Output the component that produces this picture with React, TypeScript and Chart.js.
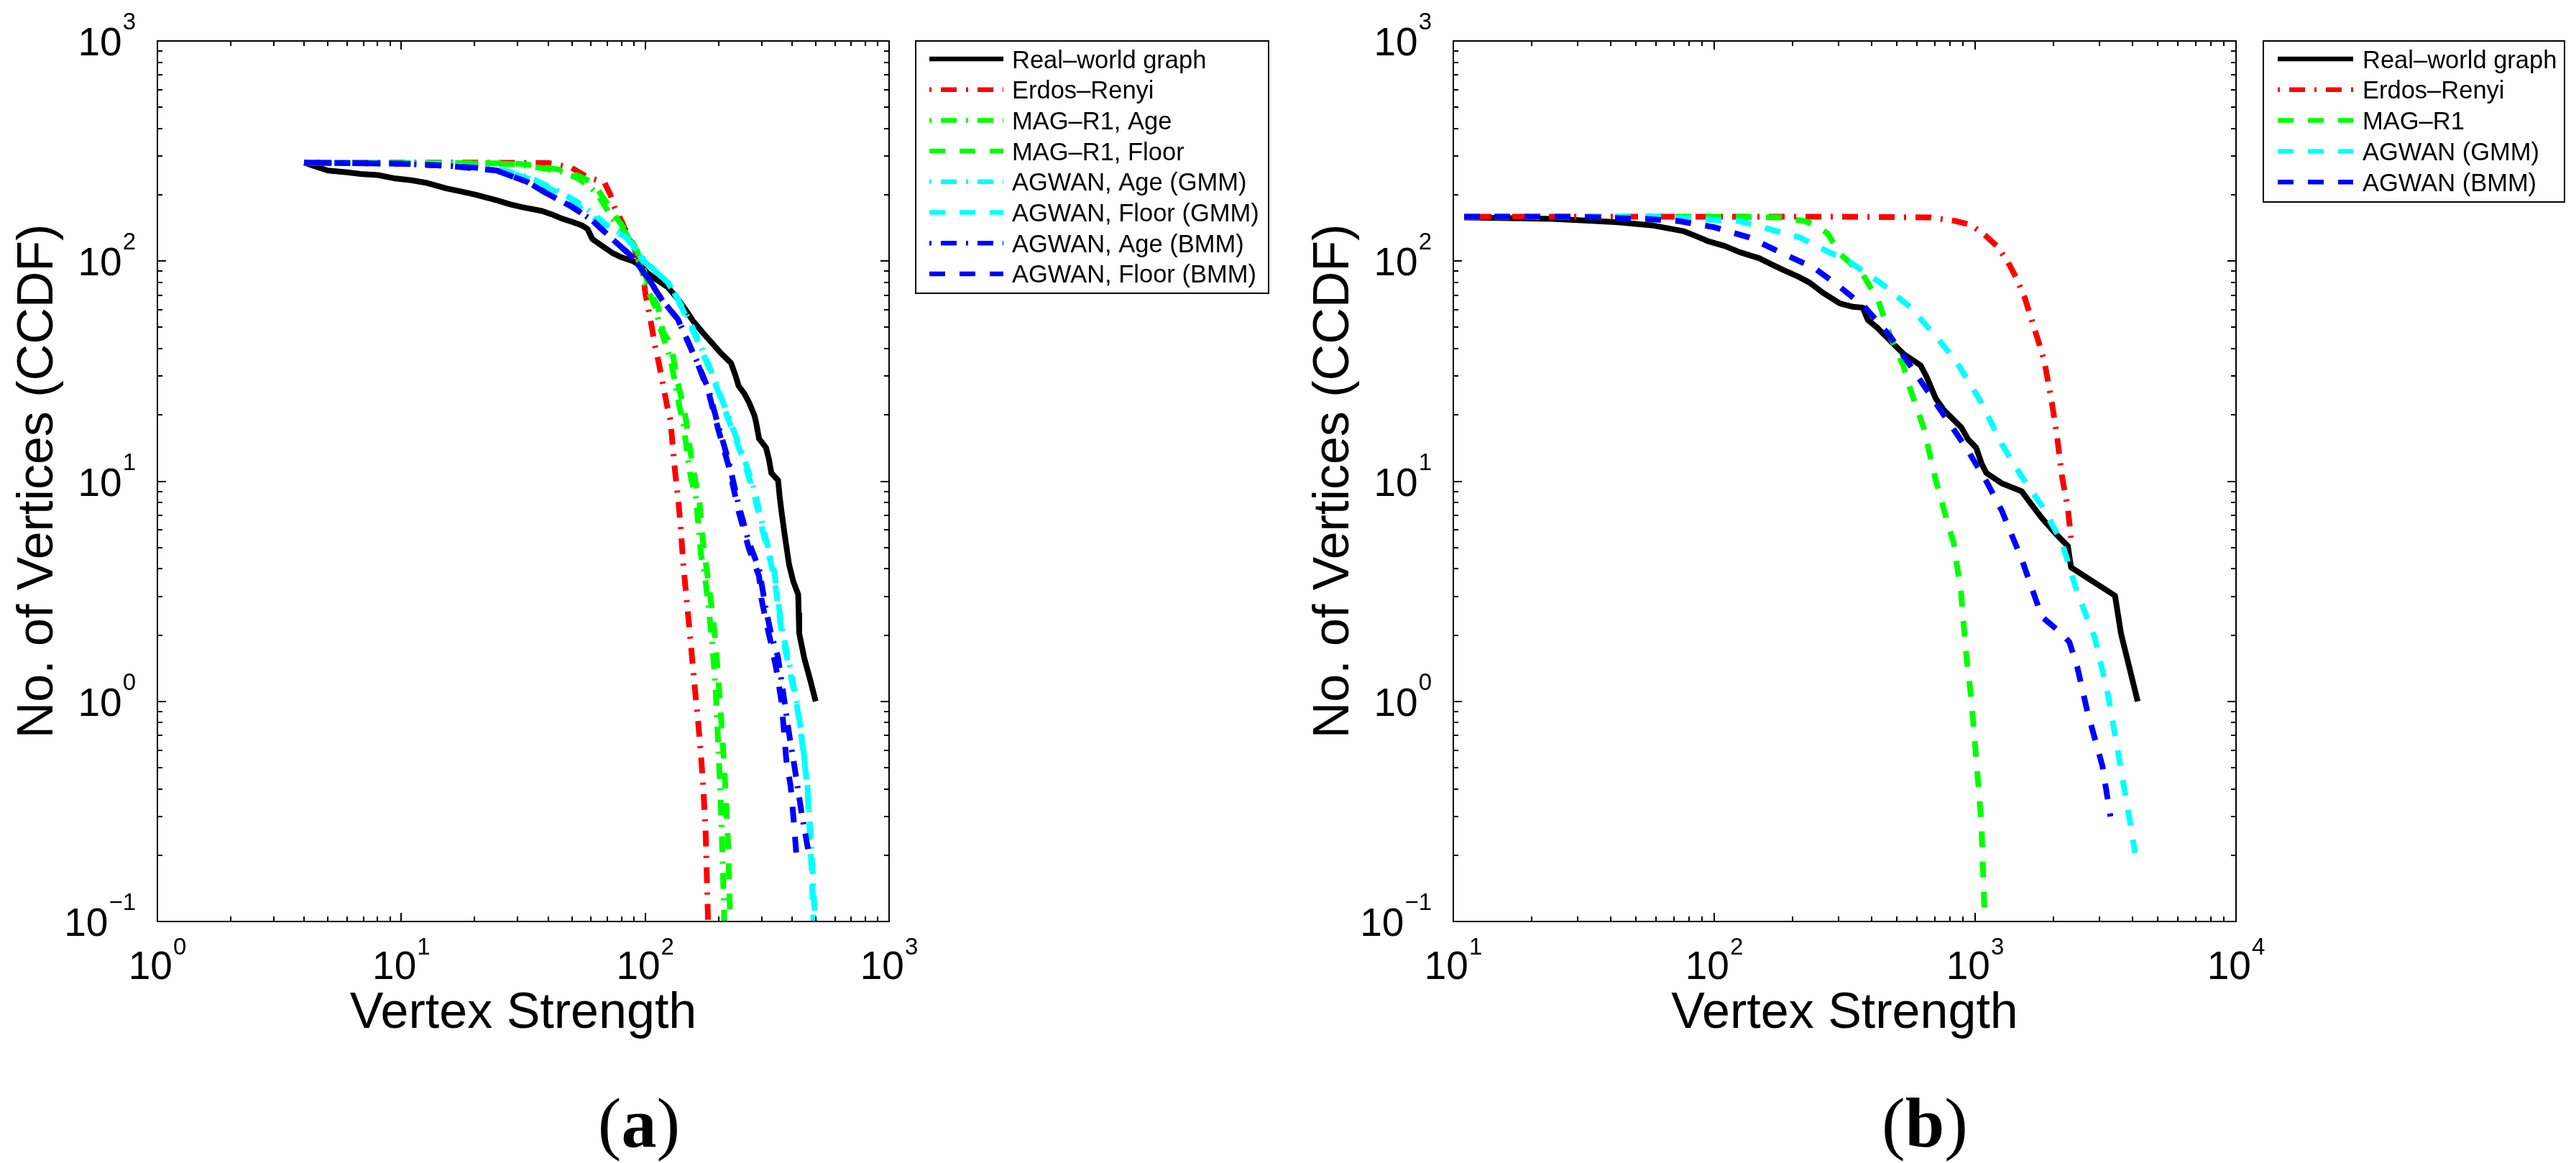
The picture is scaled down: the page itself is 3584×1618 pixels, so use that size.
import React, { useEffect, useRef } from "react";
import { Chart, registerables } from "chart.js";

Chart.register(...registerables);

const SANS = '"Liberation Sans", Arial, Helvetica, sans-serif';
const SERIF = '"Liberation Serif", "Times New Roman", serif';

type Pt = [number, number];

// ---------- line styles ----------
const SOLID: number[] = [];
const DASHED = [22, 20];
const DASHDOT = [3, 13, 22, 13];

// ---------- panel (a) data: [vertex strength, no. of vertices (CCDF)] ----------
const aReal: Pt[] = [[4, 280], [4.5, 268], [5, 258], [6, 253], [6.8, 249], [8, 246], [9.3, 238], [11, 233], [12.6, 227], [15.3, 214], [18, 206], [20.3, 200], [24.6, 189], [28, 181], [31.2, 176], [37.7, 169], [42, 162], [45.6, 156], [50, 151], [55.2, 145], [58, 140], [60.7, 126], [66, 118], [73.3, 109], [80, 104], [89, 100], [95, 96], [102.6, 88], [112, 82], [124, 76], [135, 68], [146.6, 60], [158, 53], [173, 47], [190.6, 41.7], [205, 38], [225, 34.4], [235, 30], [241.6, 27.1], [255, 25], [266, 22.9], [280, 20], [285, 18.5], [293, 15.6], [313, 14.2], [322, 12.5], [329, 10.9], [350.6, 10.1], [356, 8.5], [362, 7.3], [375, 5.5], [389, 4.18], [405, 3.5], [424, 3.06], [426, 2.5], [428, 2.04], [449, 1.57], [475, 1.25], [500, 1.0]];
const aErdos: Pt[] = [[4, 280], [20, 280], [40, 279], [45, 272], [50, 265], [58, 240], [65, 232], [68, 228], [72, 200], [75, 175], [80.7, 149], [85, 130], [89, 117], [95, 100], [98, 88], [100, 72], [105, 54.4], [110, 40.7], [114, 34], [118, 27.8], [123, 22], [127, 18.9], [130, 14], [133, 10.7], [137, 8], [140, 6.0], [143, 4.3], [146.6, 3.2], [152, 2.1], [157, 1.42], [161, 1.05], [165, 0.8], [169, 0.58], [173, 0.41], [177, 0.25], [181, 0.1]];
const aMagAge: Pt[] = [[4, 280], [15, 279], [25, 277], [30, 275], [38, 264], [45, 256], [53, 238], [60, 215], [64, 200], [70, 170], [73, 156], [83, 135], [91, 111], [97, 90], [100, 78], [106, 68], [110, 62], [115, 50], [118, 46], [124, 39], [127, 36], [133, 27.5], [138, 22], [143, 18.5], [148, 14], [150, 12.3], [155, 10], [161, 8.6], [165, 6.5], [169, 4.7], [175, 3.8], [178, 3.3], [183, 2.5], [187, 2.0], [191, 1.5], [195, 1.07], [199, 0.66], [202, 0.45], [205, 0.3], [208, 0.18], [211, 0.1]];
const aMagFloor: Pt[] = [[4, 280], [20, 279], [30, 277], [35, 272], [40, 265], [47, 258], [55, 240], [62, 225], [66, 200], [72, 175], [77, 155], [85, 133], [93, 110], [99, 90], [103, 78], [108, 68], [113, 62], [118, 48], [124, 44], [130, 37], [136, 28], [142, 23], [147, 19], [152, 14.5], [156, 12], [162, 9.5], [167, 8], [172, 5.5], [176, 4.5], [182, 3.4], [188, 2.6], [193, 2.0], [198, 1.4], [202, 1.05], [207, 0.7], [211, 0.5], [215, 0.33], [219, 0.22], [223, 0.1]];
const aAgwanAgeGmm: Pt[] = [[4, 280], [10, 278], [15, 275], [20, 268], [25, 260], [30, 250], [35, 235], [43.3, 210], [50, 192], [55, 180], [62, 162], [70, 145], [83, 130], [98, 103], [110, 90], [124, 80], [143, 61], [165, 44], [190, 30], [220, 19.5], [254, 12.8], [280, 9.2], [306, 6], [338, 3.9], [362, 2.2], [389, 1.5], [418, 1.0], [437, 0.72], [462, 0.42], [480, 0.22], [497, 0.1]];
const aAgwanFloorGmm: Pt[] = [[4, 280], [10, 278], [15, 274], [20, 266], [25, 258], [30, 246], [35, 232], [43.3, 206], [50, 188], [55, 172], [70, 141.6], [83, 129], [98, 101], [124, 80], [143, 59.8], [165, 42.8], [190.6, 29.2], [220, 18.9], [254, 12.3], [279, 8.8], [306, 5.7], [338, 3.7], [362, 2.08], [389, 1.42], [418, 0.97], [437, 0.69], [462, 0.41], [478, 0.2], [490, 0.1]];
const aAgwanAgeBmm: Pt[] = [[4, 280], [10, 277], [15.3, 271], [20, 266], [24.6, 258], [32.8, 229], [39.5, 203], [50.3, 176], [60.7, 153], [73.3, 126], [89, 104], [102.6, 84], [118, 66], [136, 54.5], [150, 43], [165, 34], [182, 26], [199, 18], [220, 12.3], [241.6, 7.8], [266, 5.3], [293, 4], [313, 2.6], [329, 2.0], [350, 1.6], [370, 1.05], [390, 0.7], [410, 0.5], [440, 0.3], [470, 0.2]];
const aAgwanFloorBmm: Pt[] = [[4, 280], [10, 277], [15.3, 271], [24.6, 258], [32.8, 229], [39.5, 203], [50.3, 176], [60.7, 153], [73.3, 126], [89, 104], [102.6, 83.6], [118, 65.8], [136, 54.5], [150, 42.8], [165, 33.7], [182, 25.3], [199, 17.3], [220, 11.7], [241.6, 7.3], [266, 4.95], [293, 3.7], [300, 2.9], [313, 2.3], [329, 1.81], [344, 1.42], [362, 1.0], [379, 0.54], [395, 0.41], [405, 0.3], [417, 0.2]];

// ---------- panel (b) data ----------
const bReal: Pt[] = [[11, 158], [15, 157], [24, 155.6], [35, 152], [42.9, 150], [58.5, 145], [76.4, 136.7], [85, 130], [95.4, 122.8], [110, 117], [124.7, 110], [149, 103], [165, 97], [186, 90.6], [210, 85], [233, 79.6], [260, 72], [303, 64.2], [340, 62], [371, 61.5], [388, 54], [420, 50], [473, 43.4], [530, 38], [618, 33.6], [650, 30], [706, 23.8], [760, 21], [884, 17.6], [940, 15.5], [1009, 14.2], [1060, 12], [1104, 10.9], [1262, 9.8], [1508, 9.0], [1650, 7.8], [1802, 6.8], [2030, 5.8], [2267, 5.07], [2332, 4.06], [3437, 3.02], [3624, 2.03], [4198, 1.0]];
const bErdos: Pt[] = [[11, 159], [100, 159], [300, 159], [675, 158], [845, 152], [966, 146], [1100, 130], [1208, 117.5], [1330, 100], [1443, 83.2], [1550, 68], [1648, 54], [1750, 43], [1842, 35.1], [1968, 22.8], [2059, 16.1], [2153, 10.5], [2270, 7.4], [2332, 5.48]];
const bMag: Pt[] = [[11, 159], [100, 159], [178, 158], [200, 155], [222, 152], [243, 146], [272, 133.6], [303, 108], [371, 86.9], [424, 67], [473, 45.5], [530, 33.6], [566, 25.9], [634, 17.6], [708, 10.0], [791, 6.25], [827, 5.26], [883, 3.13], [924, 1.64], [967, 1.02], [1009, 0.557], [1057, 0.28], [1089, 0.1]];
const bAgwanGmm: Pt[] = [[11, 159], [58.5, 159], [83.5, 155.6], [124.7, 152], [163, 139.7], [213, 128], [254, 115], [332, 98.9], [434, 79.6], [566, 61.5], [708, 45.5], [845, 35.1], [1057, 22.8], [1262, 14.8], [1508, 10.5], [1802, 7.74], [2153, 5.26], [2461, 3.13], [2873, 1.95], [3212, 1.11], [3510, 0.61], [3930, 0.28], [4102, 0.205]];
const bAgwanBmm: Pt[] = [[11, 159], [30, 159], [53.6, 155.6], [73, 152], [99.8, 142.6], [136.5, 128], [178, 110], [243, 92.7], [303, 76.4], [379, 61.5], [473, 45.5], [592, 30.8], [740, 20.9], [924, 14.2], [1104, 10.0], [1262, 7.4], [1508, 4.43], [1802, 2.42], [2153, 2.03], [2297, 1.86], [2461, 1.44], [2692, 0.9], [3074, 0.51], [3300, 0.3]];

// ---------- labels ----------
const aLabels = ["Real\u2013world graph", "Erdos\u2013Renyi", "MAG\u2013R1, Age", "MAG\u2013R1, Floor", "AGWAN, Age (GMM)", "AGWAN, Floor (GMM)", "AGWAN, Age (BMM)", "AGWAN, Floor (BMM)"];
const bLabels = ["Real\u2013world graph", "Erdos\u2013Renyi", "MAG\u2013R1", "AGWAN (GMM)", "AGWAN (BMM)"];
const X_TITLE = "Vertex Strength";
const Y_TITLE = "No. of Vertices (CCDF)";

interface SeriesDef { label: string; color: string; dash: number[]; data: Pt[] }

const aSeries: SeriesDef[] = [
  { label: aLabels[0], color: "#000000", dash: SOLID, data: aReal },
  { label: aLabels[1], color: "#ff0000", dash: DASHDOT, data: aErdos },
  { label: aLabels[2], color: "#00ff00", dash: DASHDOT, data: aMagAge },
  { label: aLabels[3], color: "#00ff00", dash: DASHED, data: aMagFloor },
  { label: aLabels[4], color: "#00ffff", dash: DASHDOT, data: aAgwanAgeGmm },
  { label: aLabels[5], color: "#00ffff", dash: DASHED, data: aAgwanFloorGmm },
  { label: aLabels[6], color: "#0000ff", dash: DASHDOT, data: aAgwanAgeBmm },
  { label: aLabels[7], color: "#0000ff", dash: DASHED, data: aAgwanFloorBmm },
];
const bSeries: SeriesDef[] = [
  { label: bLabels[0], color: "#000000", dash: SOLID, data: bReal },
  { label: bLabels[1], color: "#ff0000", dash: DASHDOT, data: bErdos },
  { label: bLabels[2], color: "#00ff00", dash: DASHED, data: bMag },
  { label: bLabels[3], color: "#00ffff", dash: DASHED, data: bAgwanGmm },
  { label: bLabels[4], color: "#0000ff", dash: DASHED, data: bAgwanBmm },
];

interface PanelCfg {
  series: SeriesDef[];
  xMin: number; xMax: number; yMin: number; yMax: number;
  area: { left: number; right: number; top: number; bottom: number };
  legend: { x0: number; x1: number; y0: number; y1: number; sx0: number; sx1: number; tx: number; row0: number; rowStep: number };
  caption: string; captionX: number; yTitleX: number;
}

const W = 1792;
const H = 1618;

const panelA: PanelCfg = {
  series: aSeries, xMin: 1, xMax: 1000, yMin: 0.1, yMax: 1000,
  area: { left: 219, right: 1237, top: 57, bottom: 1282 },
  legend: { x0: 1274, x1: 1765, y0: 57, y1: 408, sx0: 1293, sx1: 1396, tx: 1408, row0: 82, rowStep: 42.7 },
  caption: "a", captionX: 889, yTitleX: 73,
};
const panelB: PanelCfg = {
  series: bSeries, xMin: 10, xMax: 10000, yMin: 0.1, yMax: 1000,
  area: { left: 230, right: 1319, top: 57, bottom: 1282 },
  legend: { x0: 1357, x1: 1776, y0: 57, y1: 281, sx0: 1377, sx1: 1482, tx: 1495, row0: 82, rowStep: 42.8 },
  caption: "b", captionX: 886, yTitleX: 84,
};

const LINE_W = 8;
const LEGEND_LINE_W = 6.5;
const BASE_FS = 55;
const EXP_FS = 33;
const MAJOR_LEN = 12;
const MINOR_LEN = 7;

function logTicks(min: number, max: number) {
  const out: { v: number; major: boolean; e: number }[] = [];
  for (let e = Math.floor(Math.log10(min)); e <= Math.ceil(Math.log10(max)); e++) {
    for (let k = 1; k <= 9; k++) {
      const v = k * Math.pow(10, e);
      if (v >= min * 0.9999 && v <= max * 1.0001) out.push({ v, major: k === 1, e });
    }
  }
  return out;
}

function makePlugin(p: PanelCfg) {
  return {
    id: "matlabFrame",
    afterDraw(chart: any) {
      const ctx: CanvasRenderingContext2D = chart.ctx;
      const { left, right, top, bottom } = chart.chartArea;
      const xs = chart.scales.x;
      const ys = chart.scales.y;
      ctx.save();
      ctx.setLineDash([]);
      ctx.strokeStyle = "#000";
      ctx.fillStyle = "#000";
      ctx.lineWidth = 2;
      ctx.lineCap = "butt";
      // frame
      ctx.strokeRect(left, top, right - left, bottom - top);
      // ticks
      ctx.beginPath();
      const xt = logTicks(p.xMin, p.xMax);
      const yt = logTicks(p.yMin, p.yMax);
      for (const t of xt) {
        const px = Math.round(xs.getPixelForValue(t.v));
        const len = t.major ? MAJOR_LEN : MINOR_LEN;
        ctx.moveTo(px, bottom); ctx.lineTo(px, bottom - len);
        ctx.moveTo(px, top); ctx.lineTo(px, top + len);
      }
      for (const t of yt) {
        const py = Math.round(ys.getPixelForValue(t.v));
        const len = t.major ? MAJOR_LEN : MINOR_LEN;
        ctx.moveTo(left, py); ctx.lineTo(left + len, py);
        ctx.moveTo(right, py); ctx.lineTo(right - len, py);
      }
      ctx.stroke();

      // tick labels 10^e
      const drawPow = (e: number, baseY: number, expY: number, cx: number | null, rx: number | null) => {
        const es = e < 0 ? "\u2212" + Math.abs(e) : String(e);
        ctx.font = `${BASE_FS}px ${SANS}`;
        const w10 = ctx.measureText("10").width;
        ctx.font = `${EXP_FS}px ${SANS}`;
        const we = ctx.measureText(es).width;
        const gap = 1;
        const total = w10 + gap + we;
        const x0 = cx !== null ? cx - total / 2 : (rx as number) - total;
        ctx.textAlign = "left";
        ctx.textBaseline = "alphabetic";
        ctx.font = `${BASE_FS}px ${SANS}`;
        ctx.fillText("10", x0, baseY);
        ctx.font = `${EXP_FS}px ${SANS}`;
        ctx.fillText(es, x0 + w10 + gap, expY);
      };
      for (const t of xt) {
        if (!t.major) continue;
        const px = xs.getPixelForValue(t.v);
        drawPow(t.e, bottom + 80, bottom + 46, px, null);
      }
      for (const t of yt) {
        if (!t.major) continue;
        const py = ys.getPixelForValue(t.v);
        drawPow(t.e, py + 20, py - 16, null, left - 30);
      }

      // axis titles
      ctx.font = `70px ${SANS}`;
      ctx.textAlign = "center";
      ctx.textBaseline = "alphabetic";
      ctx.fillText(X_TITLE, (left + right) / 2, 1430);
      ctx.save();
      ctx.translate(p.yTitleX, (top + bottom) / 2);
      ctx.rotate(-Math.PI / 2);
      ctx.fillText(Y_TITLE, 0, 0);
      ctx.restore();

      // legend
      const L = p.legend;
      ctx.fillStyle = "#fff";
      ctx.fillRect(L.x0, L.y0, L.x1 - L.x0, L.y1 - L.y0);
      ctx.strokeStyle = "#000";
      ctx.lineWidth = 2;
      ctx.strokeRect(L.x0, L.y0, L.x1 - L.x0, L.y1 - L.y0);
      chart.data.datasets.forEach((ds: any, i: number) => {
        const y = L.row0 + i * L.rowStep;
        ctx.save();
        ctx.strokeStyle = ds.borderColor;
        ctx.lineWidth = LEGEND_LINE_W;
        ctx.lineCap = "butt";
        ctx.setLineDash(ds.borderDash || []);
        ctx.beginPath();
        ctx.moveTo(L.sx0, y);
        ctx.lineTo(L.sx1, y);
        ctx.stroke();
        ctx.restore();
        ctx.fillStyle = "#000";
        ctx.font = `34.5px ${SANS}`;
        ctx.textAlign = "left";
        ctx.textBaseline = "alphabetic";
        ctx.fillText(ds.label, L.tx, y + 12.5);
      });

      // caption (a)/(b)
      const capFs = 98;
      ctx.fillStyle = "#000";
      ctx.textAlign = "left";
      ctx.font = `${capFs}px ${SERIF}`;
      const wl = ctx.measureText("(").width;
      const wr = ctx.measureText(")").width;
      ctx.font = `bold ${capFs}px ${SERIF}`;
      const wm = ctx.measureText(p.caption).width;
      const cx0 = p.captionX - (wl + wm + wr) / 2;
      const cy = 1595;
      ctx.font = `${capFs}px ${SERIF}`;
      ctx.fillText("(", cx0, cy);
      ctx.font = `bold ${capFs}px ${SERIF}`;
      ctx.fillText(p.caption, cx0 + wl, cy);
      ctx.font = `${capFs}px ${SERIF}`;
      ctx.fillText(")", cx0 + wl + wm, cy);
      ctx.restore();
    },
  };
}

function makeChart(canvas: HTMLCanvasElement, p: PanelCfg) {
  return new Chart(canvas, {
    type: "line",
    data: {
      datasets: p.series.map((s, i) => ({
        label: s.label,
        data: s.data.map(([x, y]) => ({ x, y })),
        borderColor: s.color,
        backgroundColor: s.color,
        borderWidth: LINE_W,
        borderDash: s.dash,
        borderCapStyle: "butt",
        borderJoinStyle: "round",
        pointRadius: 0,
        pointHoverRadius: 0,
        fill: false,
        tension: 0,
        order: -i,
        clip: 0,
      })) as any,
    },
    options: {
      responsive: false,
      animation: false,
      devicePixelRatio: 1,
      events: [],
      layout: { padding: { left: 0, top: p.area.top, right: W - p.area.right, bottom: 0 } },
      scales: {
        x: {
          type: "logarithmic", min: p.xMin, max: p.xMax,
          afterFit: (s: any) => { s.height = H - p.area.bottom; },
          ticks: { display: false }, grid: { display: false }, border: { display: false },
        },
        y: {
          type: "logarithmic", min: p.yMin, max: p.yMax,
          afterFit: (s: any) => { s.width = p.area.left; },
          ticks: { display: false }, grid: { display: false }, border: { display: false },
        },
      },
      plugins: { legend: { display: false }, tooltip: { enabled: false }, title: { display: false } },
    } as any,
    plugins: [makePlugin(p)],
  });
}

export default function App() {
  const leftRef = useRef<HTMLCanvasElement>(null);
  const rightRef = useRef<HTMLCanvasElement>(null);
  useEffect(() => {
    document.body.style.margin = "0";
    const c1 = makeChart(leftRef.current as HTMLCanvasElement, panelA);
    const c2 = makeChart(rightRef.current as HTMLCanvasElement, panelB);
    return () => { c1.destroy(); c2.destroy(); };
  }, []);
  return (
    <div style={{ position: "absolute", left: 0, top: 0, width: 3584, height: 1618, background: "#fff", overflow: "hidden" }}>
      <canvas ref={leftRef} width={W} height={H} style={{ position: "absolute", left: 0, top: 0, width: W, height: H }} />
      <canvas ref={rightRef} width={W} height={H} style={{ position: "absolute", left: W, top: 0, width: W, height: H }} />
    </div>
  );
}
